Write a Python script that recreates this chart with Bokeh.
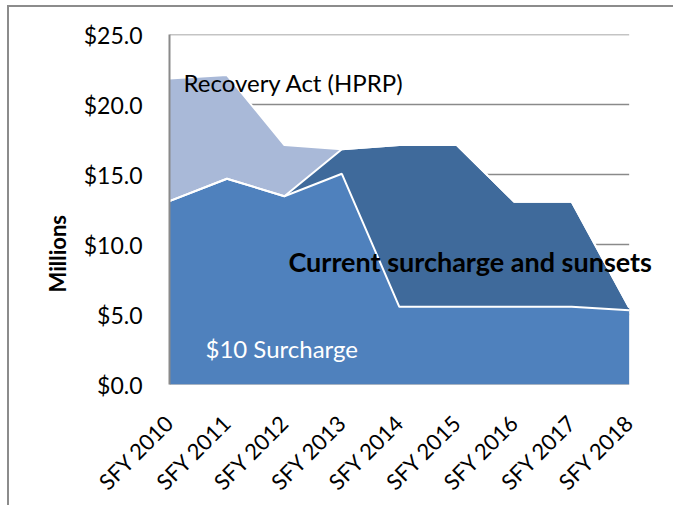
import numpy as np
from bokeh.plotting import figure
from bokeh.models import Range1d, FixedTicker, Label, Title
from bokeh.embed import file_html
from bokeh.resources import INLINE

categories = ["SFY 2010", "SFY 2011", "SFY 2012", "SFY 2013", "SFY 2014",
              "SFY 2015", "SFY 2016", "SFY 2017", "SFY 2018"]
surcharge_10 = [13.1, 14.7, 13.45, 15.05, 5.55, 5.55, 5.55, 5.55, 5.3]
current_sunsets = [0.0, 0.0, 0.0, 1.75, 11.55, 11.55, 7.5, 7.5, 0.2]
recovery_act = [8.75, 7.4, 3.65, 0.0, 0.0, 0.0, 0.0, 0.0, 0.0]
y_ticks = [0, 5, 10, 15, 20, 25]

FONT = "Lato"
n = len(categories)
x = list(range(n))
s1 = np.array(surcharge_10)
s2 = s1 + np.array(current_sunsets)
s3 = s2 + np.array(recovery_act)

p = figure(width=666, height=500, output_backend="svg", toolbar_location=None,
           x_range=Range1d(0, n - 1 + 0.65), y_range=Range1d(0, 25),
           min_border_left=160, min_border_right=9, min_border_top=27,
           min_border_bottom=122)
p.styles = {"border-top": "2px solid #8c8c8c", "border-left": "2px solid #8c8c8c",
            "margin-left": "7px", "margin-top": "5px"}
p.outline_line_color = None
p.background_fill_color = "white"
p.xgrid.visible = False
p.ygrid.visible = False

# horizontal gridlines spanning the category extent only
p.segment(x0=[0] * len(y_ticks), x1=[n - 1] * len(y_ticks), y0=y_ticks, y1=y_ticks,
          line_color="#8a8a8a", line_width=1.5)

c1, c2, c3 = "#4F81BD", "#3F6A9B", "#A9B9D8"
p.varea(x=x, y1=s2, y2=s3, fill_color=c3)
p.varea(x=x, y1=s1, y2=s2, fill_color=c2)
p.varea(x=x, y1=0, y2=s1, fill_color=c1)
p.line(x=x, y=s3, line_color="white", line_width=2)
p.line(x=x, y=s2, line_color="white", line_width=2)
p.line(x=x, y=s1, line_color="white", line_width=2)

p.yaxis.ticker = FixedTicker(ticks=y_ticks)
p.yaxis.major_label_overrides = {t: f"${t:.1f}" for t in y_ticks}
p.yaxis.axis_line_color = "#8a8a8a"
p.yaxis.axis_line_width = 2
p.yaxis.major_tick_line_color = None
p.yaxis.minor_tick_line_color = None
p.yaxis.major_label_text_font = FONT
p.yaxis.major_label_text_font_size = "23px"
p.yaxis.major_label_text_color = "black"
p.yaxis.major_label_standoff = 21

p.xaxis.ticker = FixedTicker(ticks=x)
p.xaxis.major_label_overrides = {i: c for i, c in enumerate(categories)}
p.xaxis.major_label_orientation = np.pi / 4
p.xaxis.axis_line_color = None
p.xaxis.major_tick_line_color = None
p.xaxis.minor_tick_line_color = None
p.xaxis.major_label_text_font = FONT
p.xaxis.major_label_text_font_size = "22px"
p.xaxis.major_label_text_color = "black"
p.xaxis.major_label_standoff = 28

p.add_layout(Title(text="Millions", align="left", offset=92, text_font=FONT,
                   text_font_size="22px", text_font_style="bold",
                   text_color="black", standoff=20), "left")

p.add_layout(Label(x=0.243, y=21.58, text="Recovery Act (HPRP)", text_font=FONT,
                   text_font_size="24px", text_baseline="alphabetic", text_color="black"))
p.add_layout(Label(x=2.07, y=8.76, text="Current surcharge and sunsets", text_font=FONT,
                   text_font_size="27px", text_font_style="bold",
                   text_baseline="alphabetic", text_color="black"))
p.add_layout(Label(x=0.626, y=2.55, text="$10 Surcharge", text_font=FONT,
                   text_font_size="24px", text_baseline="alphabetic", text_color="white"))

open("out.html", "w").write(file_html(p, INLINE))
